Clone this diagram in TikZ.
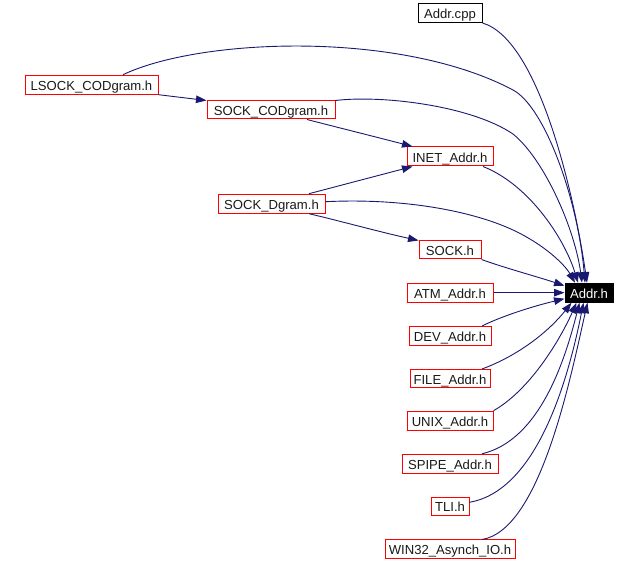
\documentclass[tikz,border=0pt]{standalone}
\usepackage{fontspec}
\setmainfont{Liberation Sans}
\usetikzlibrary{arrows.meta}
\definecolor{edgeblue}{HTML}{191970}
\begin{document}
\begin{tikzpicture}[x=1pt,y=-1pt,
  box/.style={draw,line width=1pt,rectangle,inner sep=0pt,font=\fontsize{13.1}{14}\selectfont,text=black!90,text height=11.3pt,text depth=0pt},
  redbox/.style={box,draw=red},
  blackbox/.style={box,draw=black},
  edge/.style={draw=edgeblue,line width=0.9pt,-{Triangle[length=10.5pt,width=7.5pt]},edgeblue}]
\useasboundingbox (0,0) rectangle (638,561);
% nodes
\node[blackbox,minimum width=64pt,minimum height=19pt] (addrcpp) at (450,13) {Addr.cpp};
\node[redbox,minimum width=133pt,minimum height=19pt] (lsock) at (91.5,84.7) {LSOCK\_CODgram.h};
\node[redbox,minimum width=128pt,minimum height=18pt] (sockcod) at (271,110) {SOCK\_CODgram.h};
\node[redbox,minimum width=86pt,minimum height=19pt] (inet) at (450,156.5) {INET\_Addr.h};
\node[redbox,minimum width=107pt,minimum height=19pt] (sockd) at (271.5,203.7) {SOCK\_Dgram.h};
\node[redbox,minimum width=62pt,minimum height=18pt] (sockh) at (450,250) {SOCK.h};
\node[box,draw=black,fill=black,text=white,minimum width=48pt,minimum height=19pt] (addrh) at (589,292.7) {Addr.h};
\node[redbox,minimum width=86pt,minimum height=19pt] (atm) at (450,292.7) {ATM\_Addr.h};
\node[redbox,minimum width=82pt,minimum height=19pt] (dev) at (450,336) {DEV\_Addr.h};
\node[redbox,minimum width=80pt,minimum height=18pt] (file) at (450,378.5) {FILE\_Addr.h};
\node[redbox,minimum width=86pt,minimum height=19pt] (unix) at (450,420.7) {UNIX\_Addr.h};
\node[redbox,minimum width=96pt,minimum height=19pt] (spipe) at (450,463.8) {SPIPE\_Addr.h};
\node[redbox,minimum width=38pt,minimum height=18pt] (tli) at (450,506.3) {TLI.h};
\node[redbox,minimum width=130pt,minimum height=18pt] (win32) at (450,549) {WIN32\_Asynch\_IO.h};
% edges
\draw[edge] (addrcpp.south east) .. controls (540,40) and (575,200) .. ([xshift=-2pt]addrh.north);
\draw[edge] ([xshift=31.5pt]lsock.north) .. controls (200,38) and (400,30) .. (513,90)
   .. controls (545,107) and (578,200) .. ([xshift=-4pt]addrh.north);
\draw[edge] (lsock.south east) -- ([yshift=0pt]sockcod.north west);
\draw[edge] (sockcod.north east) .. controls (380,95) and (470,105) .. (513,134)
   .. controls (545,160) and (575,230) .. ([xshift=-7pt]addrh.north);
\draw[edge] ([xshift=36pt]sockcod.south) .. controls (340,128) and (380,138) .. ([xshift=6pt]inet.north west);
\draw[edge] ([xshift=37.5pt]sockd.north) -- ([xshift=6pt]inet.south west);
\draw[edge] ([xshift=33pt]inet.south) .. controls (530,185) and (565,240) .. ([xshift=-11pt]addrh.north);
\draw[edge] ([yshift=2pt]sockd.east) .. controls (400,198) and (470,210) .. (513,230)
   .. controls (545,245) and (565,265) .. ([xshift=-14pt]addrh.north);
\draw[edge] ([xshift=37.5pt]sockd.south) .. controls (340,221) and (380,232) .. (sockh.north west);
\draw[edge] (sockh.south east) .. controls (505,268) and (535,276) .. ([yshift=-3pt]addrh.north west);
\draw[edge] (atm.east) -- (addrh.west);
\draw[edge] ([xshift=32pt]dev.north) .. controls (500,317) and (530,307) .. ([yshift=-6pt]addrh.west);
\draw[edge] ([xshift=32pt]file.north) .. controls (520,355) and (550,330) .. ([xshift=7pt]addrh.south west);
\draw[edge] (unix.north east) .. controls (530,390) and (560,340) .. ([xshift=12pt]addrh.south west);
\draw[edge] ([xshift=32pt]spipe.north) .. controls (540,440) and (565,360) .. ([xshift=15pt]addrh.south west);
\draw[edge] ([yshift=4pt]tli.east) .. controls (540,490) and (570,370) .. ([xshift=19pt]addrh.south west);
\draw[edge] ([xshift=32pt]win32.north) .. controls (540,530) and (570,380) .. ([xshift=23pt]addrh.south west);
\end{tikzpicture}
\end{document}
